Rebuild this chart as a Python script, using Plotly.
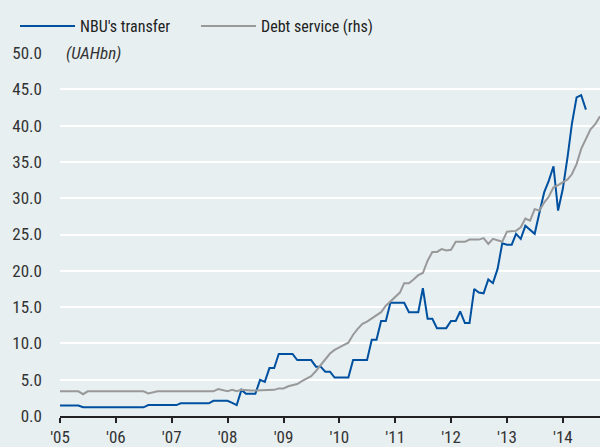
import plotly.graph_objects as go
import pandas as pd

# Monthly values, Jan 2005 onwards (UAH bn)
nbu_transfer = [
    1.45, 1.45, 1.45, 1.45, 1.45,
    1.2, 1.2, 1.2, 1.2, 1.2, 1.2, 1.2, 1.2, 1.2, 1.2, 1.2, 1.2, 1.2, 1.2,
    1.5, 1.5, 1.5, 1.5, 1.5, 1.5, 1.5,
    1.75, 1.75, 1.75, 1.75, 1.75, 1.75, 1.75,
    2.1, 2.1, 2.1, 2.1, 1.8, 1.5,
    3.6, 3.06, 3.06, 3.06, 4.98, 4.7, 6.6, 6.6,
    8.55, 8.55, 8.55, 8.55, 7.7, 7.7, 7.7, 7.7,
    6.8, 6.8, 6.1, 6.1, 5.3, 5.3, 5.3, 5.3,
    7.7, 7.7, 7.7, 7.7, 10.5, 10.5, 13.1, 13.1,
    15.6, 15.6, 15.6, 15.6, 14.3, 14.3, 14.3, 17.6,
    13.4, 13.4, 12.1, 12.1, 12.1, 13.1, 13.1, 14.4,
    12.8, 12.8, 17.5, 17.0, 16.9, 18.8, 18.3, 20.3,
    23.8, 23.6, 23.6, 25.1, 24.4, 26.2, 25.6, 25.1,
    28.0, 30.8, 32.4, 34.4, 28.3, 31.3, 35.7, 40.2,
    43.9, 44.2, 42.2,
]

debt_service = [
    3.4, 3.4, 3.4, 3.4, 3.4, 3.0,
    3.4, 3.4, 3.4, 3.4, 3.4, 3.4, 3.4, 3.4, 3.4, 3.4, 3.4, 3.4, 3.4,
    3.1, 3.3,
    3.4, 3.4, 3.4, 3.4, 3.4, 3.4, 3.4, 3.4, 3.4, 3.4, 3.4, 3.4, 3.4,
    3.7, 3.5, 3.4, 3.6, 3.4, 3.6,
    3.5, 3.5, 3.5, 3.5, 3.5, 3.5, 3.6, 3.8, 3.8, 4.1, 4.2, 4.4,
    4.8, 5.2, 5.5, 6.2, 7.0, 7.7, 8.6, 9.1, 9.5, 9.8, 10.1, 11.2,
    12.0, 12.7, 13.0, 13.4, 13.8, 14.3, 15.2, 15.8, 16.3, 17.0, 18.3, 18.3,
    18.8, 19.4, 19.7, 21.4, 22.6, 22.6, 23.0, 22.8, 22.9, 24.0, 24.0, 24.0,
    24.3, 24.3, 24.3, 24.5, 23.7, 24.4, 24.2, 24.0, 25.4, 25.4, 25.5, 26.0,
    27.2, 26.9, 28.5, 28.3, 29.4, 30.2, 31.5, 31.8, 32.2, 32.6, 33.3, 34.7,
    36.8, 38.2, 39.5, 40.2, 41.3,
]

year_ticks = ["2005-01-01", "2006-01-01", "2007-01-01", "2008-01-01", "2009-01-01",
              "2010-01-01", "2011-01-01", "2012-01-01", "2013-01-01", "2014-01-01"]
year_labels = ["'05", "'06", "'07", "'08", "'09", "'10", "'11", "'12", "'13", "'14"]
y_ticks = [0, 5, 10, 15, 20, 25, 30, 35, 40, 45, 50]

dates_nbu = pd.date_range("2005-01-01", periods=len(nbu_transfer), freq="MS")
dates_debt = pd.date_range("2005-01-01", periods=len(debt_service), freq="MS")

BG = "#e7eff1"
FONT = "Liberation Sans Narrow, Arial Narrow, Roboto Condensed, sans-serif"

fig = go.Figure()
fig.add_trace(go.Scatter(x=dates_nbu, y=nbu_transfer, mode="lines", name="NBU's transfer",
                         line=dict(color="#0050a0", width=2)))
fig.add_trace(go.Scatter(x=dates_debt, y=debt_service, mode="lines", name="Debt service (rhs)",
                         line=dict(color="#999999", width=2)))

fig.update_layout(
    width=600, height=447,
    margin=dict(l=60, r=0, t=53, b=29),
    paper_bgcolor=BG, plot_bgcolor=BG,
    font=dict(family=FONT, size=16, color="#333333"),
    showlegend=True,
    legend=dict(orientation="h", xref="container", x=0.025, xanchor="left",
                yref="container", y=1 - 26 / 447, yanchor="middle",
                font=dict(size=16, color="#222222"), bgcolor="rgba(0,0,0,0)",
                itemwidth=55, entrywidth=111, traceorder="normal"),
    xaxis=dict(
        type="date",
        range=["2005-01-01", "2014-09-01"],
        tickvals=year_ticks, ticktext=year_labels,
        showgrid=False, zeroline=False,
        showline=True, linecolor="#222222", linewidth=1.5,
        ticks="outside", ticklen=5, tickwidth=1.5, tickcolor="#222222",
        tickfont=dict(size=17, color="#333333"),
    ),
    yaxis=dict(
        range=[0, 50],
        tickvals=y_ticks, tickformat=".1f",
        showgrid=True, gridcolor="#ffffff", gridwidth=2,
        zeroline=False, showline=False, ticks="",
        tickfont=dict(size=17, color="#333333"),
        ticklabelstandoff=17,
    ),
    annotations=[dict(
        text="<i>(UAHbn)</i>", xref="paper", yref="y", x=0.0, y=50,
        xanchor="left", yanchor="middle", showarrow=False,
        font=dict(size=17, color="#333333"), bgcolor=BG, borderpad=3, xshift=2,
    )],
)

fig.write_html("out.html",
               config={"displayModeBar": False},
               post_script="document.body.style.margin='0';document.body.style.background='" + BG + "';")
